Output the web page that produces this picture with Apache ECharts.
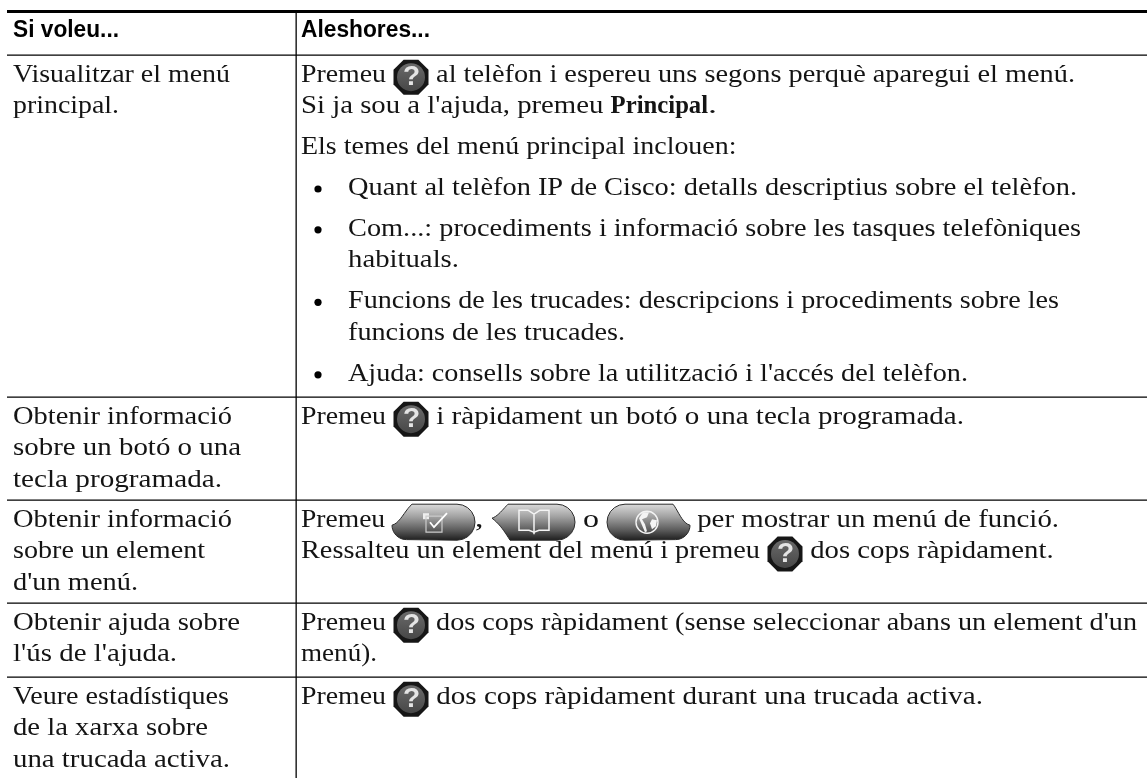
<!DOCTYPE html>
<html><head><meta charset="utf-8">
<style>html,body{margin:0;padding:0;background:#fff}#c{width:1147px;height:778px}</style>
<script src="https://cdn.jsdelivr.net/npm/echarts@6/dist/echarts.min.js"></script>
</head><body><div id="c"></div>
<script>
const headers = ["Si voleu...", "Aleshores..."];
const leftLines = [
  ["Visualitzar el menú", "principal."],
  ["Obtenir informació", "sobre un botó o una", "tecla programada."],
  ["Obtenir informació", "sobre un element", "d'un menú."],
  ["Obtenir ajuda sobre", "l'ús de l'ajuda."],
  ["Veure estadístiques", "de la xarxa sobre", "una trucada activa."]
];
// tokens: {?} help icon, {a}{b}{c} softkeys, *bold*
const rightLines = [
  [
    {t:"Premeu {?} al telèfon i espereu uns segons perquè aparegui el menú."},
    {t:"Si ja sou a l'ajuda, premeu *Principal*."},
    {t:"Els temes del menú principal inclouen:", gap:1},
    {t:"Quant al telèfon IP de Cisco: detalls descriptius sobre el telèfon.", bullet:1, gap:1},
    {t:"Com...: procediments i informació sobre les tasques telefòniques", bullet:1, gap:1},
    {t:"habituals.", indent:1},
    {t:"Funcions de les trucades: descripcions i procediments sobre les", bullet:1, gap:1},
    {t:"funcions de les trucades.", indent:1},
    {t:"Ajuda: consells sobre la utilització i l'accés del telèfon.", bullet:1, gap:1}
  ],
  [{t:"Premeu {?} i ràpidament un botó o una tecla programada."}],
  [
    {t:"Premeu {a}, {b} o {c} per mostrar un menú de funció."},
    {t:"Ressalteu un element del menú i premeu {?} dos cops ràpidament."}
  ],
  [
    {t:"Premeu {?} dos cops ràpidament (sense seleccionar abans un element d'un"},
    {t:"menú)."}
  ],
  [{t:"Premeu {?} dos cops ràpidament durant una trucada activa."}]
];
</script>
<script>
// Layout only: fitted widths of each text run, matching the reference's typeface metrics.
const headerWidths=[106,129];
const leftWidths=[[217,106],[219,228,209],[219,192,125],[227,164],[216,195,217]];
const rightWidths=[
  [[92,646],[309.6,97.5,9],[435.5],[729],[733],[111],[711],[277],[620]],
  [[92,535]],
  [[91,17,32,369],[466,250.6]],
  [[92,708],[76]],
  [[92,554]]
];
const SERIF = '"Liberation Serif"', SANS = '"Liberation Sans"';
const FS = 26, LH = 31.7, GAP = 40.8, FIRST = 20.7, ICON_DY = 1.5;
const X0 = 7, XV = 296, XL = 13, XR = 301, XEND = 1147;
const ruleYs = [55, 397, 500, 603, 677];
const BOTTOM = 778;
const TY = -1;
const ctx = document.createElement('canvas').getContext('2d');
const els = [];
function rect(x,y,w,h,fill){els.push({type:'rect',shape:{x,y,width:w,height:h},style:{fill},silent:true});}
function width(s,font){ctx.font=font;return ctx.measureText(s).width;}
function text(s,x,y,font,fill,sx){
  els.push({type:'text',x,y,scaleX:sx||1,style:{text:s,x:0,y:0,font,fill:fill||'#141414',textAlign:'left',textVerticalAlign:'middle'},silent:true});
}
function fitted(s,x,y,font,w,fill){text(s,x,y,font,fill,w?w/width(s,font):1);return w||width(s,font);}
function bez(p0,c1,c2,p3,out){
  for(let i=0;i<=10;i++){const t=i/10,u=1-t;
    out.push([u*u*u*p0[0]+3*u*u*t*c1[0]+3*u*t*t*c2[0]+t*t*t*p3[0],u*u*u*p0[1]+3*u*u*t*c1[1]+3*u*t*t*c2[1]+t*t*t*p3[1]]);}
}
function capArc(cx,cy,r,a0,a1,out){
  for(let i=0;i<=10;i++){const a=a0+(a1-a0)*i/10;out.push([cx+r*Math.cos(a),cy+r*Math.sin(a)]);}
}
function helpIcon(cx,cy){
  const r=17.5,k=r*0.42;
  els.push({type:'polygon',shape:{points:[[-k,-r],[k,-r],[r,-k],[r,k],[k,r],[-k,r],[-r,k],[-r,-k]].map(p=>[p[0]+cx,p[1]+cy])},style:{fill:'#161616'},silent:true});
  els.push({type:'circle',shape:{cx,cy,r:14},style:{fill:{type:'linear',x:0,y:0,x2:0,y2:1,colorStops:[{offset:0,color:'#6a6a6a'},{offset:1,color:'#474747'}]}},silent:true});
  text('?',cx-8,cy,`bold 28px ${SANS}`,'#e4e4e4');
}
function softkey(kind,l,y){
  const w=83,h=36,t=y-h/2,b=y+h/2,rr=l+w,R=h/2,P=[];
  const grad={type:'linear',x:0,y:0,x2:0,y2:1,colorStops:[{offset:0,color:'#dcdcdc'},{offset:.35,color:'#a2a2a2'},{offset:.7,color:'#5e5e5e'},{offset:1,color:'#1c1c1c'}]};
  if(kind==='a'){
    bez([l,y+3],[l+8,y+1],[l+13,t+6],[l+20,t],P);
    capArc(rr-R,y,R,-Math.PI/2,Math.PI/2,P);
    capArc(l+R*0.8,y+3,R*0.8,Math.PI/2,Math.PI,P);
  }
  if(kind==='b'){
    bez([l,y-4],[l+6,y-6],[l+11,t+5],[l+16,t],P);
    capArc(rr-R,y,R,-Math.PI/2,Math.PI/2,P);
    bez([l+18,b],[l+13,b-8],[l+8,y+2],[l,y-4],P);
  }
  if(kind==='c'){
    capArc(l+R,y,R,Math.PI/2,Math.PI*1.5,P);
    bez([rr-17,t],[rr-12,t+6],[rr-8,y+1],[rr,y+3],P);
    capArc(rr-R*0.8,y+3,R*0.8,0,Math.PI/2,P);
  }
  els.push({type:'polygon',shape:{points:P},style:{fill:grad,stroke:'#2a2a2a',lineWidth:1},silent:true});
  const line={stroke:'#f4f4f4',fill:'none',lineWidth:1.5};
  if(kind==='a'){
    const cx=l+42;
    els.push({type:'rect',shape:{x:cx-11,y:y-9,width:6,height:6},style:{fill:'#eee'},silent:true});
    els.push({type:'rect',shape:{x:cx-8,y:y-6,width:16,height:16},style:{stroke:'#ccc',fill:'none',lineWidth:1.2},silent:true});
    els.push({type:'polyline',shape:{points:[[cx-4,y],[cx,y+5],[cx+13,y-9]]},style:{stroke:'#fff',fill:'none',lineWidth:1.8},silent:true});
  }
  if(kind==='b'){
    const cx=l+42;
    const pg=[[cx,y-8],[cx-6,y-12],[cx-15,y-12],[cx-15,y+8],[cx-5,y+8],[cx,y+10],[cx+5,y+8],[cx+15,y+8],[cx+15,y-12],[cx+6,y-12],[cx,y-8]];
    els.push({type:'polyline',shape:{points:pg},style:line,silent:true});
    els.push({type:'line',shape:{x1:cx,y1:y-8,x2:cx,y2:y+12},style:line,silent:true});
  }
  if(kind==='c'){
    const cx=l+40;
    els.push({type:'circle',shape:{cx,cy:y,r:11},style:{stroke:'#f4f4f4',fill:'none',lineWidth:1.4},silent:true});
    els.push({type:'polygon',shape:{points:[[cx-4,y-10],[cx+2,y-10],[cx,y-5],[cx-5,y-3],[cx-2,y+2],[cx,y+9],[cx-2,y+10],[cx-5,y+3],[cx-8,y-4]]},style:{fill:'#f4f4f4'},silent:true});
    els.push({type:'polygon',shape:{points:[[cx+5,y-3],[cx+10,y-2],[cx+9,y+4],[cx+5,y+7],[cx+3,y+1]]},style:{fill:'#f4f4f4'},silent:true});
  }
  return w;
}
function flow(str,x,y,widths){
  const font=`${FS}px ${SERIF}`, bold=`bold ${FS}px ${SERIF}`;
  let n=0;
  str.split(/(\{.\}|\*[^*]+\*)/).filter(Boolean).forEach(tok=>{
    if(tok==='{?}'){helpIcon(x+18,y+ICON_DY);x+=36;}
    else if(/^\{[abc]\}$/.test(tok)){x+=softkey(tok[1],x,y+1.5);}
    else if(tok[0]==='*'){x+=fitted(tok.slice(1,-1),x,y+TY,bold,widths[n++]);}
    else{x+=fitted(tok,x,y+TY,font,widths[n++]);}
  });
}
// rules
rect(X0,10,XEND-X0,3,'#000');
ruleYs.forEach(y=>rect(X0,y-0.5,XEND-X0,1.3,'#000'));
rect(XV-0.5,10,1.3,BOTTOM-10,'#000');
// headers
fitted(headers[0],XL,31,`bold 23px ${SANS}`,headerWidths[0],'#000');
fitted(headers[1],XR,31,`bold 23px ${SANS}`,headerWidths[1],'#000');
// cells
leftLines.forEach((ls,i)=>{
  const y=ruleYs[i]+FIRST;
  ls.forEach((s,j)=>fitted(s,XL,y+j*LH+TY,`${FS}px ${SERIF}`,leftWidths[i][j]));
});
rightLines.forEach((ls,i)=>{
  let y=ruleYs[i]+FIRST;
  ls.forEach((l,j)=>{
    if(j>0) y+=l.gap?GAP:LH;
    let x=XR;
    if(l.bullet){els.push({type:'circle',shape:{cx:XR+17,cy:y,r:3.6},style:{fill:'#000'},silent:true});}
    if(l.bullet||l.indent) x=XR+47;
    flow(l.t,x,y,rightWidths[i][j]);
  });
});
const chart=echarts.init(document.getElementById('c'),null,{renderer:'canvas'});
chart.setOption({animation:false,backgroundColor:'#fff',graphic:{elements:els}});
</script></body></html>
